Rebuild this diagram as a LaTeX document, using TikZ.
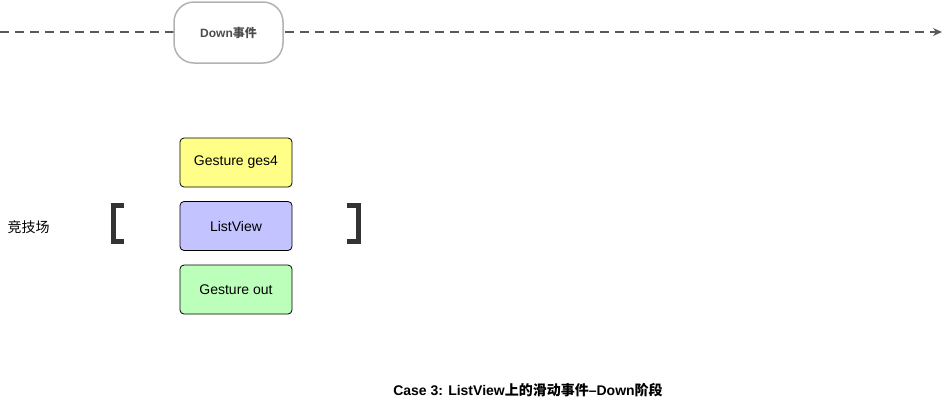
\documentclass[tikz,border=0pt]{standalone}
\usepackage{fontspec}
\setmainfont{Liberation Sans}
\newfontfamily\cjk{Noto Sans CJK SC}
\usetikzlibrary{arrows.meta}
\begin{document}
\begin{tikzpicture}[x=1pt,y=-1pt,
  box/.style={draw=black,rounded corners=4pt,minimum width=112pt,minimum height=49pt,font=\fontsize{14}{16}\selectfont,line width=0.8pt},
  brk/.style={line width=5pt,draw=black!80,line cap=butt}]
\useasboundingbox (0,0) rectangle (946,408);
\draw[dashed,dash pattern=on 9pt off 6pt,line width=1.2pt,draw=black!65,-{Stealth[length=9pt,width=8pt]}] (0,32) -- (942,32);
\node[draw=black!30,fill=white,line width=1.5pt,rounded corners=20pt,minimum width=109pt,minimum height=61pt,font=\fontsize{12}{14}\selectfont\bfseries,text=black!70] (down) at (228.5,32.5) {Down{\cjk 事件}};
\node[box,fill={rgb,255:red,255;green,255;blue,136}] (g4) at (236,162.5) {Gesture ges4};
\node[box,fill={rgb,255:red,195;green,195;blue,255}] (lv) at (236,226) {ListView};
\node[box,fill={rgb,255:red,187;green,255;blue,187}] (go) at (236,289.5) {Gesture out};
\node[anchor=west,font=\fontsize{14}{16}\selectfont\cjk] (arena) at (4,227) {竞技场};
\draw[brk] (124,205) -- (113,205) -- (113,241) -- (124,241);
\draw[brk] (347,205) -- (358,205) -- (358,241) -- (347,241);
\node[font=\fontsize{14}{16}\selectfont\bfseries] (cap) at (528,390) {Case 3: ListView{\cjk\bfseries 上的滑动事件}–Down{\cjk\bfseries 阶段}};
\end{tikzpicture}
\end{document}
